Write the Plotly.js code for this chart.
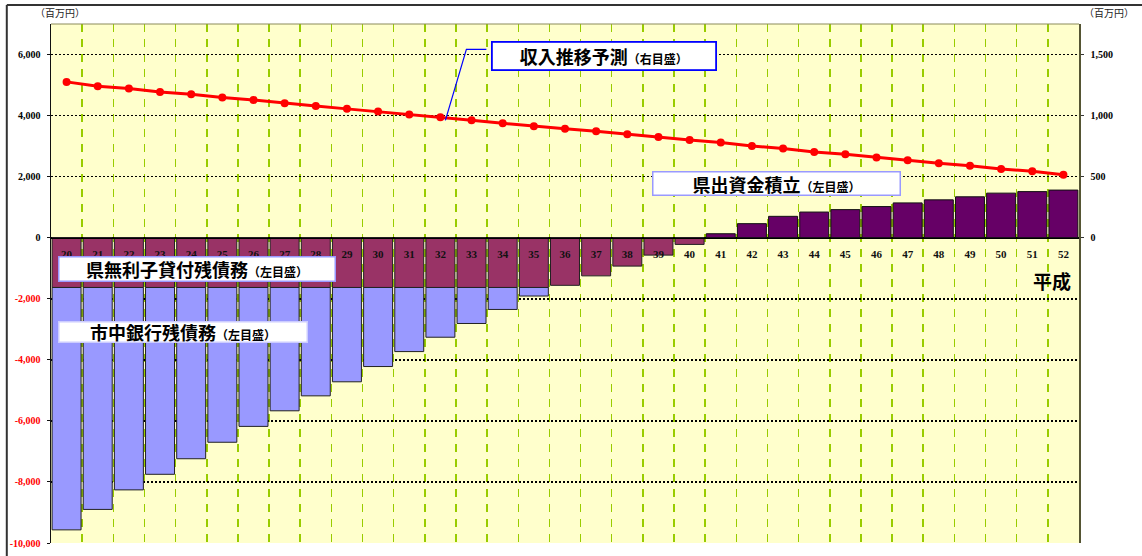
<!DOCTYPE html>
<html>
<head>
<meta charset="utf-8">
<script src="https://cdn.plot.ly/plotly-3.0.1.min.js"></script>
<style>
  html, body { margin: 0; padding: 0; background: #fff; }
  #chart { width: 1142px; height: 556px; }
</style>
</head>
<body>
<div id="chart"></div>
<script>
// 年度（平成）
const years = ['20','21','22','23','24','25','26','27','28','29','30','31','32','33','34','35',
               '36','37','38','39','40','41','42','43','44','45','46','47','48','49','50','51','52'];

// 県無利子貸付残債務（百万円・左目盛）
const kenLoanDebt = [-1630,-1630,-1630,-1630,-1630,-1630,-1630,-1630,-1630,-1630,-1630,-1630,-1630,-1630,-1630,-1630,
                     -1560,-1250,-930,-570,-220,null,null,null,null,null,null,null,null,null,null,null,null];

// 市中銀行残債務（百万円・左目盛）
const bankDebt = [-7940,-7270,-6630,-6120,-5610,-5070,-4550,-4040,-3550,-3090,-2590,-2100,-1630,-1180,-720,-280,
                  null,null,null,null,null,null,null,null,null,null,null,null,null,null,null,null,null];

// 県出資金積立（百万円・左目盛）
const kenReserve = [null,null,null,null,null,null,null,null,null,null,null,null,null,null,null,null,
                    null,null,null,null,null,130,460,700,840,920,1020,1140,1240,1340,1460,1510,1560];

// 収入推移予測（百万円・右目盛）
const revenue = [1276,1240,1221,1194,1175,1148,1128,1101,1079,1055,1033,1008,986,962,937,913,
                 893,872,847,825,801,779,751,730,702,683,656,634,609,590,563,544,516];

// 左目盛
const leftTicks = [-10000,-8000,-6000,-4000,-2000,0,2000,4000,6000];
const leftTickText = ['-10,000','-8,000','-6,000','-4,000','-2,000','0','2,000','4,000','6,000'];
// 右目盛
const rightTicks = [0,500,1000,1500];
const rightTickText = ['0','500','1,000','1,500'];

const leftRange = [-10000, 7000];
const rightRange = [-2500, 1750];

const serif = 'Liberation Serif, Times New Roman, serif';
const gothic = 'Noto Sans CJK JP, sans-serif';

const traces = [
  {
    type: 'bar', name: '県無利子貸付残債務', x: years, y: kenLoanDebt,
    marker: { color: '#993366', line: { color: '#222', width: 1 } },
    hoverinfo: 'x+y'
  },
  {
    type: 'bar', name: '市中銀行残債務', x: years, y: bankDebt,
    marker: { color: '#9999FF', line: { color: '#222', width: 1 } },
    hoverinfo: 'x+y'
  },
  {
    type: 'bar', name: '県出資金積立', x: years, y: kenReserve,
    marker: { color: '#660066', line: { color: '#111', width: 1 } },
    hoverinfo: 'x+y'
  },
  {
    type: 'scatter', mode: 'lines+markers', name: '収入推移予測', x: years, y: revenue,
    yaxis: 'y2',
    line: { color: '#FF0000', width: 3 },
    marker: { color: '#FF0000', size: 8, symbol: 'circle' },
    hoverinfo: 'x+y'
  }
];

// 左目盛の負の値は赤字
const leftLabels = leftTicks.map((v, i) =>
  v < 0 ? '<span style="color:#FF0000">' + leftTickText[i] + '</span>' : leftTickText[i]);

// 凡例ボックスの共通設定
function labelBox(main, sub, x, y, w, h, border, bw) {
  return {
    xref: 'paper', yref: 'paper', x: x, y: y,
    xanchor: 'center', yanchor: 'middle',
    showarrow: false,
    text: '<b>' + main + '</b><b><span style="font-size:12px">（' + sub + '）</span></b>',
    font: { family: gothic, size: 18, color: '#000' },
    bgcolor: '#FFFFFF',
    bordercolor: border, borderwidth: bw, borderpad: 0,
    width: w, height: h, align: 'center', valign: 'middle'
  };
}

const leaderIdx = years.indexOf('32');

const layout = {
  width: 1142, height: 556,
  margin: { l: 51, r: 63, t: 24, b: 13 },
  paper_bgcolor: '#FFFFFF',
  plot_bgcolor: '#FFFFCC',
  barmode: 'relative',
  bargap: 0.07,
  showlegend: false,
  xaxis: {
    type: 'category',
    range: [-0.5, years.length - 0.5],
    anchor: 'free',
    position: (0 - leftRange[0]) / (leftRange[1] - leftRange[0]),
    tickson: 'boundaries',
    showgrid: true, gridcolor: '#99CC00', gridwidth: 1.5, griddash: '8px,7px',
    ticks: '',
    showline: true, linecolor: '#000', linewidth: 1.5,
    tickfont: { family: serif, size: 11, color: '#111', weight: 'bold' },
    ticklabelstandoff: 6,
    fixedrange: true
  },
  yaxis: {
    range: leftRange,
    tickvals: leftTicks, ticktext: leftLabels,
    tickfont: { family: serif, size: 10, color: '#000', weight: 'bold' },
    showgrid: true, gridcolor: '#000', gridwidth: 1.5, griddash: '2px,2px',
    zeroline: true, zerolinecolor: '#000', zerolinewidth: 1.5,
    showline: true, linecolor: '#111', linewidth: 1.5,
    ticks: 'outside', ticklen: 3, tickcolor: '#111',
    ticklabelstandoff: 4,
    fixedrange: true
  },
  yaxis2: {
    overlaying: 'y', side: 'right',
    range: rightRange,
    tickvals: rightTicks, ticktext: rightTickText,
    tickfont: { family: serif, size: 10, color: '#000', weight: 'bold' },
    showgrid: false, zeroline: false,
    showline: true, linecolor: '#555533', linewidth: 1.5,
    ticks: 'outside', ticklen: 3, tickcolor: '#333',
    ticklabelstandoff: 5,
    fixedrange: true
  },
  shapes: [
    // 外枠（上・左）
    { type: 'line', xref: 'paper', yref: 'paper', x0: -0.043, x1: 1.1, y0: 1.0366, y1: 1.0366,
      line: { color: '#333', width: 2 } },
    { type: 'line', xref: 'paper', yref: 'paper', x0: -0.043, x1: -0.043, y0: 1.0366, y1: -0.05,
      line: { color: '#333', width: 2 } },
    // プロット領域の上辺
    { type: 'line', xref: 'paper', yref: 'paper', x0: 0, x1: 1, y0: 1, y1: 1,
      line: { color: '#8C8C5A', width: 1.2 } },
    // 収入推移予測の引出線（H32 の点から）
    { type: 'path', xref: 'x', yref: 'y2',
      xsizemode: 'pixel', ysizemode: 'pixel',
      xanchor: leaderIdx, yanchor: revenue[leaderIdx],
      path: 'M 5,-3 L 26,68 L 46,68',
      line: { color: '#0000FF', width: 1.2 } }
  ],
  annotations: [
    labelBox('収入推移予測', '右目盛', 0.5384, 0.9393, 222, 26, '#0000FF', 1.8),
    labelBox('県出資金積立', '左目盛', 0.7057, 0.6927, 246, 22, '#9999FF', 1.5),
    labelBox('県無利子貸付残債務', '左目盛', 0.1420, 0.5279, 275, 23, '#9999FF', 1.5),
    labelBox('市中銀行残債務', '左目盛', 0.1284, 0.4066, 247, 19, '#CCCCFF', 1.5),
    {
      xref: 'paper', yref: 'paper', x: 0.9733, y: 0.5067,
      xanchor: 'center', yanchor: 'middle', showarrow: false,
      text: '<b>平成</b>',
      font: { family: gothic, size: 19, color: '#000' }
    },
    {
      xref: 'paper', yref: 'paper', x: 0.0088, y: 1.0212,
      xanchor: 'center', yanchor: 'middle', showarrow: false,
      text: '（百万円）',
      font: { family: gothic, size: 10, color: '#222' }
    },
    {
      xref: 'paper', yref: 'paper', x: 1.0292, y: 1.0212,
      xanchor: 'center', yanchor: 'middle', showarrow: false,
      text: '（百万円）',
      font: { family: gothic, size: 10, color: '#222' }
    }
  ]
};

Plotly.newPlot('chart', traces, layout, { displayModeBar: false, staticPlot: true });
</script>
</body>
</html>
